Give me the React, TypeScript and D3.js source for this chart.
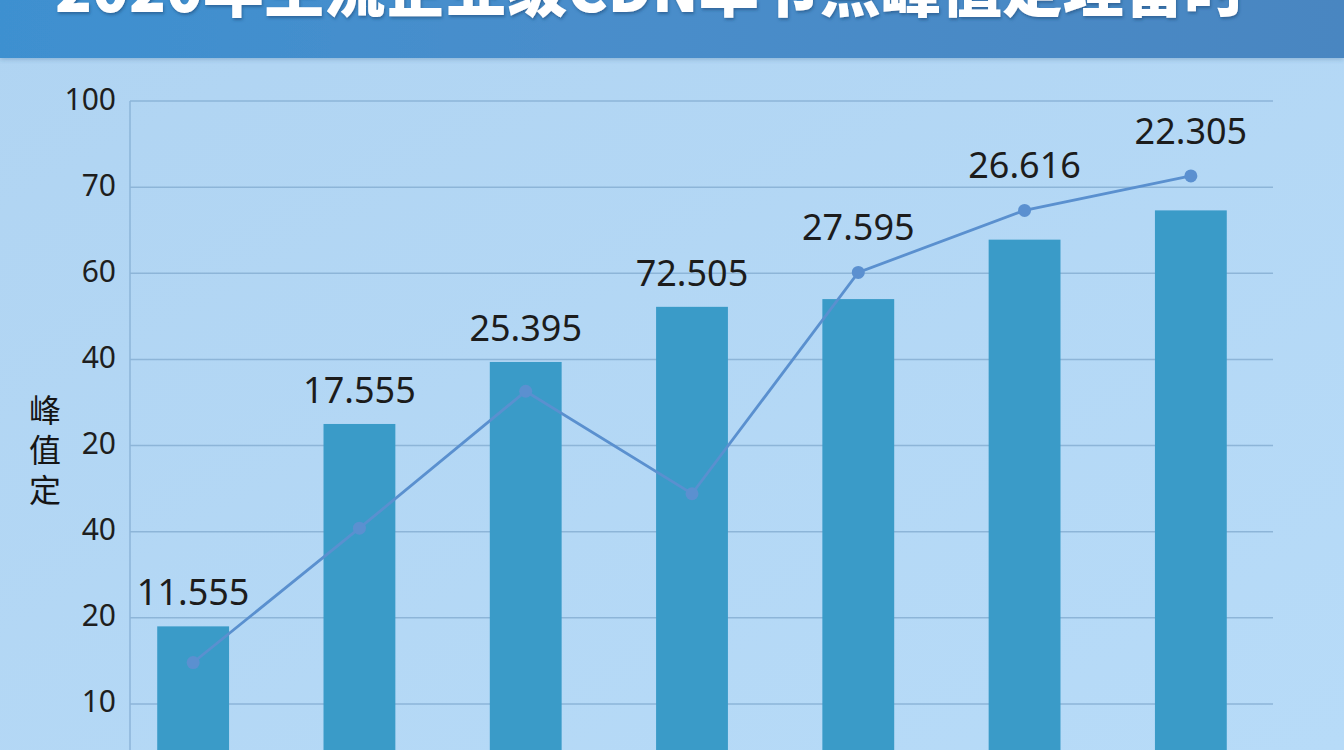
import React from 'react'
import * as d3 from 'd3'

// chart values
const categories = ['节点1', '节点2', '节点3', '节点4', '节点5', '节点6', '节点7']
const barValues = [19.0, 42.5, 49.7, 56.1, 57.0, 63.9, 67.3]
const lineValues = [14.8, 30.4, 46.3, 34.4, 60.1, 67.3, 71.3]
const valueLabels = ['11.555', '17.555', '25.395', '72.505', '27.595', '26.616', '22.305']
const gridValues = [10, 20, 30, 40, 50, 60, 70, 80]
const tickLabels = ['10', '20', '40', '20', '40', '60', '70', '100']
const titleText = '2020年主流企业级CDN单节点峰值定理留时'
const axisTitle = '峰值定'

const width = 1344,
	height = 750

const App = () => {
	const x = d3
		.scaleBand()
		.domain(categories)
		.range([110, 1274])
		.paddingInner(0.568)
		.paddingOuter(0.284)

	const y = d3.scaleLinear().domain([0, 80]).range([790, 101])

	const line = d3
		.line<number>()
		.x((d, i) => x(categories[i])! + x.bandwidth() / 2)
		.y((d) => y(d))

	return (
		<svg
			width={width}
			height={height}
			style={{ position: 'absolute', left: 0, top: 0, display: 'block' }}
		>
			<defs>
				<linearGradient id="bg" x1="0" y1="0" x2="1" y2="1">
					<stop offset="0" stopColor="#b0d4f2" />
					<stop offset="1" stopColor="#b7dbf8" />
				</linearGradient>
				<linearGradient id="head" x1="0" y1="0" x2="1" y2="0">
					<stop offset="0" stopColor="#3e90d0" />
					<stop offset="0.5" stopColor="#4a8dca" />
					<stop offset="1" stopColor="#4a86c1" />
				</linearGradient>
				<filter id="shadow" x="-5%" y="-50%" width="110%" height="200%">
					<feDropShadow dx="1" dy="2" stdDeviation="1.5" floodColor="#1d4d7a" floodOpacity="0.6" />
				</filter>
				<filter id="barShadow" x="-10%" y="-10%" width="120%" height="120%">
					<feDropShadow dx="0" dy="2" stdDeviation="2" floodColor="#2a5f8a" floodOpacity="0.25" />
				</filter>
			</defs>

			<rect width={width} height={height} fill="url(#bg)" />
			<rect width={width} height={58} fill="url(#head)" filter="url(#barShadow)" />
			<text
				x={650}
				y={12}
				textAnchor="middle"
				fontFamily="'Noto Sans CJK SC', sans-serif"
				fontWeight={900}
				fontSize={62}
				fill="#ffffff"
				textLength={1190}
				lengthAdjust="spacingAndGlyphs"
				filter="url(#shadow)"
			>
				{titleText}
			</text>

			{/* grid */}
			{gridValues.map((v, i) => (
				<g key={'g' + i}>
					<line x1={130} x2={1273} y1={y(v)} y2={y(v)} stroke="#8db5d8" strokeWidth={1.5} />
					<text
						x={116}
						y={y(v) - 3}
						textAnchor="end"
						dominantBaseline="central"
						fontFamily="'Noto Sans', sans-serif"
						fontSize={30}
						fill="#1e1e1e"
					>
						{tickLabels[i]}
					</text>
				</g>
			))}
			<line x1={130} x2={130} y1={y(80)} y2={height} stroke="#8db5d8" strokeWidth={1.5} />

			{/* axis title, stacked vertically */}
			<text
				x={45}
				y={394}
				style={{ writingMode: 'vertical-rl' }}
				fontFamily="'Noto Sans CJK SC', sans-serif"
				fontSize={32}
				letterSpacing={8}
				fill="#151515"
			>
				{axisTitle}
			</text>

			{/* bars */}
			{barValues.map((v, i) => (
				<rect
					key={'b' + i}
					x={x(categories[i])}
					y={y(v)}
					width={x.bandwidth()}
					height={y(0) - y(v)}
					fill="#3a9bc8"
				/>
			))}

			{/* line */}
			<path d={line(lineValues)!} fill="none" stroke="#5a90cf" strokeWidth={2.8} />
			{lineValues.map((v, i) => (
				<circle
					key={'p' + i}
					cx={x(categories[i])! + x.bandwidth() / 2}
					cy={y(v)}
					r={6.5}
					fill="#5b90d0"
				/>
			))}

			{/* value labels */}
			{valueLabels.map((t, i) => (
				<text
					key={'l' + i}
					x={x(categories[i])! + x.bandwidth() / 2}
					y={Math.min(y(barValues[i]) - 21, y(lineValues[i]) - 32)}
					textAnchor="middle"
					fontFamily="'Noto Sans', sans-serif"
					fontSize={36}
					fill="#1c1c1c"
				>
					{t}
				</text>
			))}
		</svg>
	)
}

export default App
